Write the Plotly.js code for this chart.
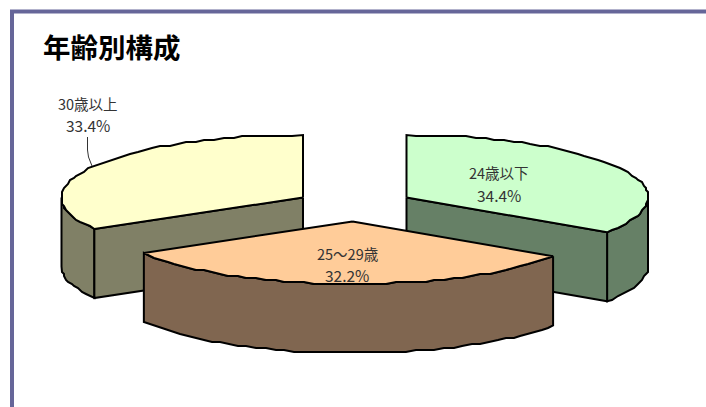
<!DOCTYPE html>
<html><head><meta charset="utf-8">
<script src="https://cdn.plot.ly/plotly-3.0.1.min.js"></script>
<style>html,body{margin:0;padding:0;background:#fff;overflow:hidden}</style>
</head><body><div id="chart" style="width:706px;height:407px"></div>
<script>
// Data, clockwise from 12 o'clock
const categories = ['24歳以下', '25〜29歳', '30歳以上'];
const shares = [34.4, 32.2, 33.4];
const percentLabels = ['34.4%', '32.2%', '33.4%'];

// Drawing styles
const topColors = ['#CCFFCC', '#FFCC99', '#FFFFCC'];
const wallColors = ['#668066', '#806650', '#808066'];

// Pie geometry in the plot's axis units
const radiusX = 241.5, radiusY = 62.5, depth = 69;
const apexX = [406.5, 352.5, 303];
const apexY = [197.5, 221.5, 197.5];
const labelX = [499, 347, 88];
const labelY = [[172.5, 194.5], [253.5, 275], [103, 124.5]];
const leaderX = [87.5, 87.5, 88.5, 92];
const leaderY = [137, 150, 157, 166];

const rad = d => d * Math.PI / 180;
const snap = v => Math.round(v / 2) * 2;
function rim(i, from, to, drop) {
  const xs = [], ys = [], n = Math.max(1, Math.round(Math.abs(to - from) / 2.4));
  for (let k = 0; k <= n; k++) {
    const t = rad(from + (to - from) * k / n);
    const edge = k === 0 || k === n;
    const x = apexX[i] + radiusX * Math.sin(t), y = apexY[i] + drop - radiusY * Math.cos(t);
    xs.push(edge ? x : snap(x)); ys.push(edge ? y : snap(y));
  }
  return [xs, ys];
}
function poly(x, y, color) {
  return {type: 'scatter', mode: 'lines', x: x, y: y, fill: 'toself', fillcolor: color,
    line: {color: '#000', width: 2, shape: 'linear'}, hoverinfo: 'skip', showlegend: false};
}
const sum = shares.reduce((a, b) => a + b, 0);
let acc = 0;
const spans = shares.map(s => { const f = acc; acc += s / sum * 360; return [f, acc]; });

function slice(i) {
  const out = [], [a0, a1] = spans[i];
  const ax = apexX[i], ay = apexY[i];
  // outer wall, only the part of the rim facing the viewer (90..270 degrees)
  const w0 = Math.max(a0, 90), w1 = Math.min(a1, 270);
  if (w1 > w0) {
    const [tx, ty] = rim(i, w0, w1, 0), [bx, by] = rim(i, w1, w0, depth);
    out.push(poly(tx.concat(bx, tx[0]), ty.concat(by, ty[0]), wallColors[i]));
  }
  // flat cut walls that face the viewer
  [a0, a1].forEach(a => {
    const ex = ax + radiusX * Math.sin(rad(a)), ey = ay - radiusY * Math.cos(rad(a));
    if ((a === a1 && a < 180) || (a === a0 && a > 180)) {
      out.push(poly([ax, ex, ex, ax, ax], [ay, ey, ey + depth, ay + depth, ay], wallColors[i]));
    }
  });
  // top face
  const [rx, ry] = rim(i, a0, a1, 0);
  out.push(poly([ax].concat(rx, ax), [ay].concat(ry, ay), topColors[i]));
  return out;
}
// back slices first, front slice last
const traces = [].concat(slice(2), slice(0), slice(1));
traces.push({type: 'scatter', mode: 'lines', x: leaderX, y: leaderY,
  line: {color: '#333', width: 1}, hoverinfo: 'skip', showlegend: false});

const labelFonts = [
  {family: '"Noto Sans CJK JP", sans-serif', size: 14.5, color: '#333'},
  {family: '"Noto Sans CJK JP", sans-serif', size: 15.5, color: '#333'}
];
const annotations = [];
categories.forEach((c, i) => {
  [c, percentLabels[i]].forEach((text, j) => annotations.push({
    x: labelX[i], y: labelY[i][j], xref: 'x', yref: 'y', text: text, showarrow: false,
    xanchor: 'center', yanchor: 'middle', font: labelFonts[j]}));
});

Plotly.newPlot('chart', traces, {
  width: 706, height: 407, margin: {l: 0, r: 0, t: 0, b: 0},
  paper_bgcolor: '#fff', plot_bgcolor: 'rgba(0,0,0,0)', showlegend: false,
  title: {text: '<b>年齢別構成</b>', x: 43 / 706, xanchor: 'left', xref: 'paper',
    y: 1 - 48 / 407, yanchor: 'middle', yref: 'paper',
    font: {family: '"Noto Sans CJK JP", sans-serif', size: 27.5, color: '#000'}},
  xaxis: {range: [0, 706], visible: false, fixedrange: true},
  yaxis: {range: [407, 0], visible: false, fixedrange: true},
  annotations: annotations,
  shapes: [
    {type: 'line', xref: 'x', yref: 'y', x0: 10, x1: 706, y0: 11.5, y1: 11.5, line: {color: '#666699', width: 4}},
    {type: 'line', xref: 'x', yref: 'y', x0: 12, x1: 12, y0: 10, y1: 407, line: {color: '#666699', width: 4}}
  ]
}, {displayModeBar: false, staticPlot: true});
</script></body></html>
